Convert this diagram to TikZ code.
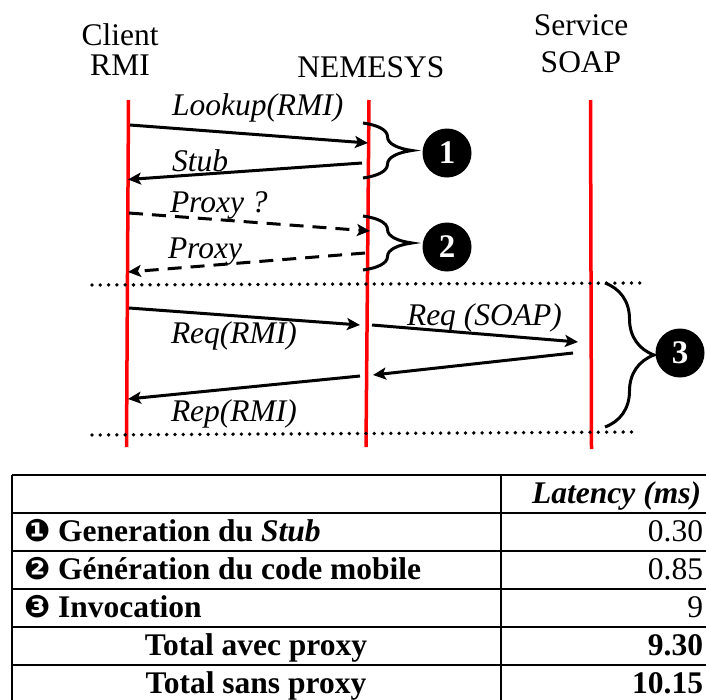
\documentclass[tikz,border=0pt]{standalone}
\usepackage{fontspec}
\setmainfont{Liberation Serif}
\newfontfamily\djv{DejaVu Sans}
\usetikzlibrary{arrows.meta,decorations.pathreplacing}
\begin{document}
\begin{tikzpicture}[x=1pt,y=-1pt,
  every node/.style={inner sep=0pt, outer sep=0pt, font=\fontsize{31.5}{36}\selectfont},
  lifeline/.style={draw=red, line width=3.5pt},
  msg/.style={line width=3pt, -{Stealth[length=13pt,width=12pt,inset=3pt]}},
  dmsg/.style={msg, dash pattern=on 14pt off 9pt},
  lbl/.style={anchor=base west, font=\fontsize{31.5}{36}\selectfont\itshape},
  hdr/.style={anchor=base},
  dotline/.style={line width=3.8pt, line cap=round, dash pattern=on 0pt off 8.3pt},
  bracex/.style={line width=3pt, decorate, decoration={brace, amplitude=49pt}},
  num/.style={circle, fill=black, minimum size=49pt, text=white, font=\fontsize{33}{36}\selectfont\bfseries},
  tline/.style={line width=2.5pt},
  cellL/.style={anchor=base west, font=\fontsize{31.5}{36}\selectfont\bfseries},
  cellC/.style={anchor=base, font=\fontsize{31.5}{36}\selectfont\bfseries},
  cellR/.style={anchor=base east, font=\fontsize{31.5}{36}\selectfont},
]
\useasboundingbox (0,0) rectangle (706,699);
\clip (0,0) rectangle (706,699);

% headers
\node[hdr] (client1) at (120,45) {Client};
\node[hdr] (client2) at (120,75) {RMI};
\node[hdr] (nem) at (371,77) {NEMESYS};
\node[hdr] (serv1) at (581,35) {Service};
\node[hdr] (serv2) at (581,72) {SOAP};

% lifelines
\coordinate (cT) at (128.5,100); \coordinate (cB) at (126.5,447);
\coordinate (nT) at (369,100);   \coordinate (nB) at (366,447);
\coordinate (sT) at (590.5,100); \coordinate (sB) at (591.5,449);
\draw[lifeline] (cT) -- (cB);
\draw[lifeline] (nT) -- (nB);
\draw[lifeline] (sT) -- (sB);

% phase 1
\coordinate (m1a) at (130,125); \coordinate (m1b) at (368,143);
\coordinate (m2a) at (362,163); \coordinate (m2b) at (128,179.5);
\draw[msg] (m1a) -- (m1b);
\draw[msg] (m2a) -- (m2b);
\node[lbl] (l1) at (172,115) {Lookup(RMI)};
\node[lbl] (l2) at (172,171) {Stub};
\draw[bracex] (363,123) -- (363,178);
\node[num] (n1) at (447,153) {1};

% phase 2
\coordinate (m3a) at (129,213); \coordinate (m3b) at (370,231);
\coordinate (m4a) at (365,253); \coordinate (m4b) at (128,272);
\draw[dmsg] (m3a) -- (m3b);
\draw[dmsg] (m4a) -- (m4b);
\node[lbl] (l3) at (170,212) {Proxy ?};
\node[lbl] (l4) at (168,258) {Proxy};
\draw[bracex] (363,216) -- (363,270);
\node[num] (n2) at (447,247) {2};

% phase 3
\draw[dotline] (92,285) -- (645,283);
\draw[dotline] (92,435) -- (637,432);
\coordinate (m5a) at (129,308); \coordinate (m5b) at (360,325);
\coordinate (m6a) at (372,325); \coordinate (m6b) at (578,342);
\coordinate (m7a) at (573,353); \coordinate (m7b) at (373,375);
\coordinate (m8a) at (360,376); \coordinate (m8b) at (128,399);
\draw[msg] (m5a) -- (m5b);
\draw[msg] (m6a) -- (m6b);
\draw[msg] (m7a) -- (m7b);
\draw[msg] (m8a) -- (m8b);
\node[lbl] (l5) at (171,343) {Req(RMI)};
\node[lbl] (l6) at (407,325) {Req (SOAP)};
\node[lbl] (l7) at (171,421) {Rep(RMI)};
\draw[bracex] (605,283) -- (605,427);
\node[num] (n3) at (680,353) {3};

% table
\foreach \yy in {475,513,551,589,627,665,703}
  \draw[tline] (12,\yy) -- (712,\yy);
\draw[tline] (12,475) -- (12,705);
\draw[tline] (501,475) -- (501,705);

\node[anchor=base east, font=\fontsize{31.5}{36}\selectfont\bfseries\itshape] (th) at (701,503) {Latency (ms)};
\node[cellL] (r1) at (24,541.5) {{\djv\fontsize{31}{34}\selectfont ❶} Generation du \textit{Stub}};
\node[cellL] (r2) at (24,579.5) {{\djv\fontsize{31}{34}\selectfont ❷} Génération du code mobile};
\node[cellL] (r3) at (24,617.5) {{\djv\fontsize{31}{34}\selectfont ❸} Invocation};
\node[cellC] (r4) at (256,655.5) {Total avec proxy};
\node[cellC] (r5) at (256,693.5) {Total sans proxy};
\node[cellR] (v1) at (703,541.5) {0.30};
\node[cellR] (v2) at (703,579.5) {0.85};
\node[cellR] (v3) at (703,617.5) {9};
\node[cellR, font=\fontsize{31.5}{36}\selectfont\bfseries] (v4) at (703,655.5) {9.30};
\node[cellR, font=\fontsize{31.5}{36}\selectfont\bfseries] (v5) at (703,693.5) {10.15};
\end{tikzpicture}
\end{document}
